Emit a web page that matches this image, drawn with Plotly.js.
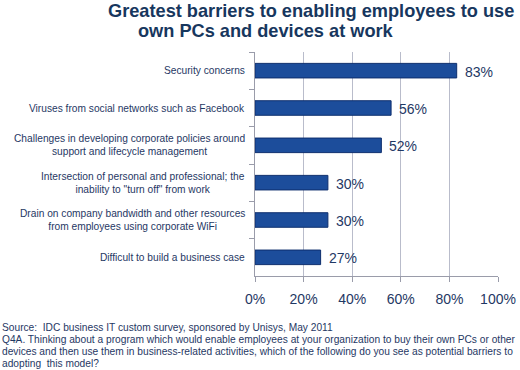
<!DOCTYPE html>
<html><head><meta charset="utf-8">
<script src="https://cdn.plot.ly/plotly-3.0.1.min.js"></script>
<style>html,body{margin:0;padding:0;background:#fff}#c{width:520px;height:370px}</style>
</head><body><div id="c"></div>
<script>
const categories = [
  "Security concerns",
  "Viruses from social networks such as Facebook",
  "Challenges in developing corporate policies around<br>support and lifecycle management",
  "Intersection of personal and professional; the<br>inability to \"turn off\" from work",
  "Drain on company bandwidth and other resources<br>from employees using corporate WiFi",
  "Difficult to build a business case"
];
const values = [83, 56, 52, 30, 30, 27];
const valueLabels = ["83%", "56%", "52%", "30%", "30%", "27%"];
const xTickVals = [0, 20, 40, 60, 80, 100];
const xTickText = ["0%", "20%", "40%", "60%", "80%", "100%"];
const titleLines = ["Greatest barriers to enabling employees to use", "own PCs and devices at work"];
const footnoteLines = [
  "Source:  IDC business IT custom survey, sponsored by Unisys, May 2011",
  "Q4A. Thinking about a program which would enable employees at your organization to buy their own PCs or other",
  "devices and then use them in business-related activities, which of the following do you see as potential barriers to",
  "adopting  this model?"
];

const navy = "#1F3864";
const FONT = "Liberation Sans, Arial, sans-serif";
const PL = 255, PT = 52, PW = 243, PH = 224;

const trace = {
  type: "bar", orientation: "h",
  x: values, y: categories,
  marker: {color: "#1C4D9B", line: {color: "#0E2F6E", width: 1}},
  width: 0.39,
  hoverinfo: "none"
};

const annotations = [];
categories.forEach((c, i) => {
  annotations.push({
    xref: "paper", yref: "y", x: 0, y: c, text: c,
    xanchor: "right", yanchor: "middle", align: "center", xshift: -8,
    showarrow: false, font: {family: FONT, size: 10.2, color: navy}
  });
  annotations.push({
    xref: "x", yref: "y", x: values[i], y: c, text: valueLabels[i],
    xanchor: "left", yanchor: "middle", xshift: 6, yshift: -1,
    showarrow: false, font: {family: FONT, size: 14, color: navy}
  });
});
annotations.push({
  xref: "paper", yref: "paper", x: (106 - PL) / PW, y: 1, yshift: PT + 1, text: "<b>" + titleLines[0] + "</b>",
  xanchor: "left", yanchor: "top", showarrow: false,
  font: {family: FONT, size: 18.2, color: "#17375E"}
});
annotations.push({
  xref: "paper", yref: "paper", x: (136 - PL) / PW, y: 1, yshift: PT - 19, text: "<b>" + titleLines[1] + "</b>",
  xanchor: "left", yanchor: "top", showarrow: false,
  font: {family: FONT, size: 18.2, color: "#17375E"}
});
footnoteLines.forEach((t, k) => {
  const cy = 327 + k * 12.3; // pixel centre of line
  annotations.push({
    xref: "paper", yref: "paper", x: -PL / PW, y: 0, yshift: (PT + PH) - cy,
    text: t, xanchor: "left", yanchor: "middle", align: "left", showarrow: false,
    font: {family: FONT, size: 10.2, color: navy}
  });
});

const layout = {
  width: 520, height: 370,
  margin: {l: PL, r: 520 - PL - PW, t: PT, b: 370 - PT - PH},
  paper_bgcolor: "#fff", plot_bgcolor: "#fff",
  showlegend: false,
  font: {family: FONT, color: navy},
  xaxis: {
    range: [0, 100], tickvals: xTickVals, ticktext: xTickText,
    showgrid: true, gridcolor: "#B9BCCB", gridwidth: 1,
    showline: true, linecolor: "#9A9CAA", linewidth: 1,
    ticks: "outside", ticklen: 5, tickcolor: "#9A9CAA", ticklabelstandoff: 5,
    tickfont: {family: FONT, size: 14, color: navy},
    zeroline: false, fixedrange: true
  },
  yaxis: {
    autorange: "reversed", showticklabels: false,
    showline: true, linecolor: "#9A9CAA", linewidth: 1,
    ticks: "outside", tickson: "boundaries", ticklen: 5, tickcolor: "#9A9CAA",
    showgrid: false, zeroline: false, fixedrange: true
  },
  annotations: annotations
};

Plotly.newPlot("c", [trace], layout, {staticPlot: true, displayModeBar: false});
</script>
</body></html>
